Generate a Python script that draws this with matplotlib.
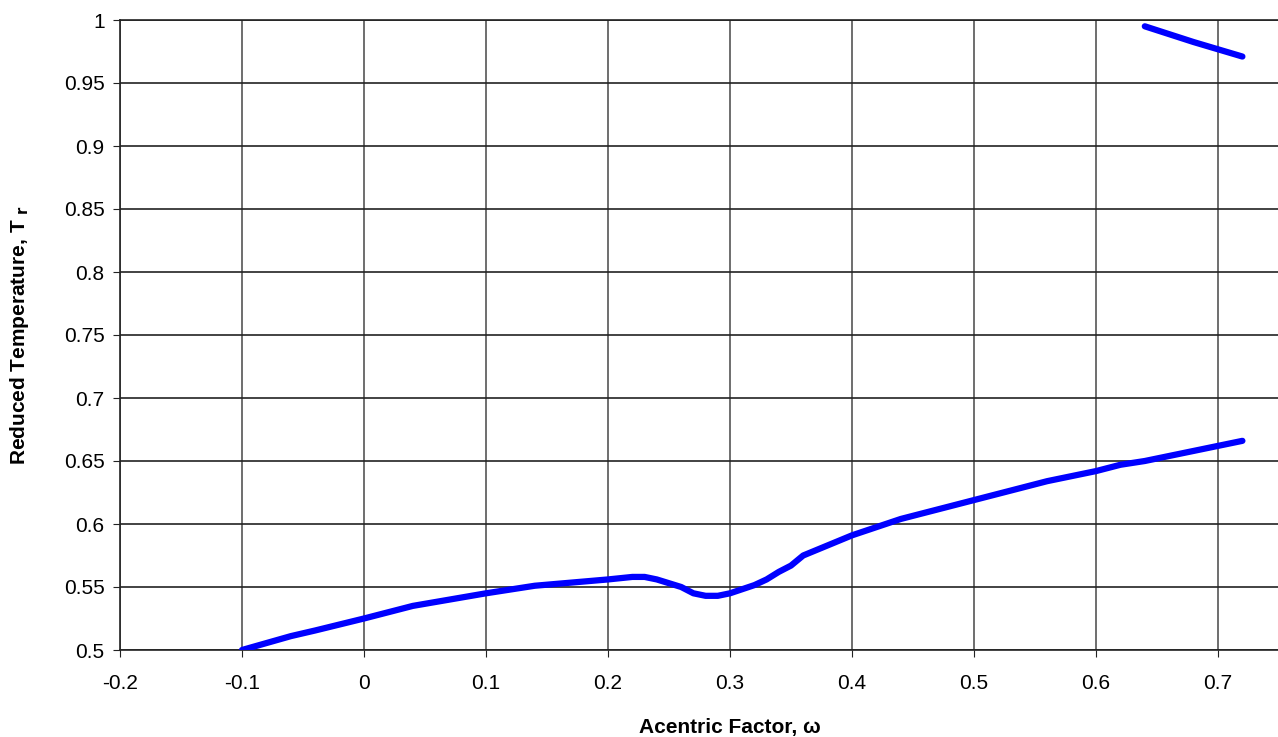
import matplotlib.pyplot as plt

plt.rcParams['font.family'] = ['Liberation Sans', 'DejaVu Sans']

# lower branch
omega_low = [-0.1, -0.06, -0.04, 0.0, 0.04, 0.1, 0.14, 0.2, 0.22, 0.23, 0.24, 0.26, 0.27, 0.28,
             0.29, 0.3, 0.32, 0.33, 0.34, 0.35, 0.36, 0.4, 0.44, 0.48, 0.5, 0.52, 0.56, 0.6,
             0.62, 0.64, 0.68, 0.72]
tr_low = [0.5, 0.511, 0.5155, 0.525, 0.535, 0.545, 0.551, 0.556, 0.558, 0.558, 0.556, 0.55, 0.545, 0.543,
          0.543, 0.545, 0.5515, 0.556, 0.562, 0.567, 0.575, 0.591, 0.604, 0.614, 0.619, 0.624, 0.634, 0.642,
          0.647, 0.65, 0.658, 0.666]

# upper branch
omega_up = [0.64, 0.68, 0.72]
tr_up = [0.995, 0.9825, 0.971]

fig = plt.figure(figsize=(12.78, 7.37), dpi=100)
ax = fig.add_axes([120/1278, 1 - 650/737, 1220/1278, 630/737])

ax.plot(omega_low, tr_low, color='#0000ff', lw=4.5, solid_capstyle='round', zorder=3)
ax.plot(omega_up, tr_up, color='#0000ff', lw=4.5, solid_capstyle='round', zorder=3)

ax.set_xlim(-0.2, 0.8)
ax.set_ylim(0.5, 1.0)
ax.set_xticks([-0.2, -0.1, 0, 0.1, 0.2, 0.3, 0.4, 0.5, 0.6, 0.7])
ax.set_xticklabels(['-0.2', '-0.1', '0', '0.1', '0.2', '0.3', '0.4', '0.5', '0.6', '0.7'])
yt = [0.5, 0.55, 0.6, 0.65, 0.7, 0.75, 0.8, 0.85, 0.9, 0.95, 1.0]
ax.set_yticks(yt)
ax.set_yticklabels(['0.5', '0.55', '0.6', '0.65', '0.7', '0.75', '0.8', '0.85', '0.9', '0.95', '1'])
ax.xaxis.grid(True, color='#555555', lw=1.2)
ax.yaxis.grid(True, color='#222222', lw=1.2)
ax.tick_params(labelsize=15, length=5, direction='out', color='#222222')
ax.tick_params(axis='x', pad=12)
ax.tick_params(axis='y', pad=6)
for s in ax.spines.values():
    s.set_color('#222222')
    s.set_linewidth(1.2)
ax.spines['right'].set_visible(False)

ax.set_xlabel('Acentric Factor, ω', fontsize=15, fontweight='bold', labelpad=18)
ax.set_ylabel(r'Reduced Temperature, T $_{\mathbf{r}}$', fontsize=15, fontweight='bold', labelpad=24)

fig.savefig('out.png', dpi=100)
